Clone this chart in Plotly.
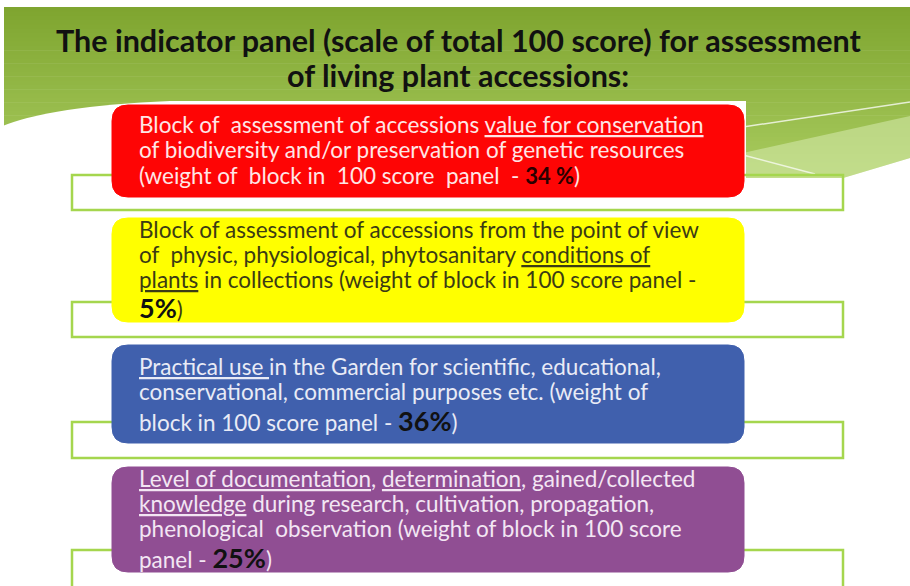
import plotly.graph_objects as go

# ---- data ----
title_lines = [
    "The indicator panel (scale of total 100 score) for assessment",
    "of living plant accessions:",
]
block_names = ["Conservation value", "Plant conditions", "Practical use", "Documentation"]
block_weights = [34, 5, 36, 25]  # weight of block in 100 score panel, %
block_lines = [
    ["Block of  assessment of accessions <u>value for conservation</u>",
     "of biodiversity and/or preservation of genetic resources",
     "(weight of  block in  100 score  panel  - {w})"],
    ["Block of assessment of accessions from the point of view",
     "of  physic, physiological, phytosanitary <u>conditions of</u>",
     "<u>plants</u> in collections (weight of block in 100 score panel -",
     "{w})"],
    ["<u>Practical use </u>in the Garden for scientific, educational,",
     "conservational, commercial purposes etc. (weight of",
     "block in 100 score panel - {w})"],
    ["<u>Level of documentation</u>, <u>determination</u>, gained/collected",
     "<u>knowledge</u> during research, cultivation, propagation,",
     "phenological  observation (weight of block in 100 score",
     "panel - {w})"],
]
weight_fmt = ["{} %", "{}%", "{}%", "{}%"]

# ---- styles / layout ----
W, H = 910, 586
FONT = "Lato"
box_fill = ["#fe0505", "#ffff00", "#4060ad", "#904e93"]
text_col = ["#ffe6e6", "#3b3b14", "#e9ebf6", "#f3e6f3"]
pct_size = [22, 27, 27, 27]
pct_col = ["#2a0000", "#111111", "#111111", "#111111"]
box_y = [(105, 197), (218, 322), (345, 443), (467, 572)]
box_x = (112, 744)
outline_y = [(175, 210), (302, 337), (422, 458), (550, 620)]
outline_x = (72, 843)
line_y = [[124, 149, 175], [229, 254, 279, 307], [366, 391, 420], [478, 503, 528, 557]]
text_x = 137

shapes = []

# green gradient header
g_top = (0x7f, 0xa5, 0x30)
g_bot = (0xaa, 0xcc, 0x60)
n = 40
y0, y1 = 7, 180
for i in range(n):
    t = i / (n - 1)
    c = tuple(int(g_top[k] + (g_bot[k] - g_top[k]) * t) for k in range(3))
    ya = y0 + (y1 - y0) * i / n
    yb = y0 + (y1 - y0) * (i + 1) / n + 0.6
    shapes.append(dict(type="rect", xref="x", yref="y", x0=4, x1=W, y0=ya, y1=yb,
                       fillcolor="rgb(%d,%d,%d)" % c, line=dict(width=0), layer="below"))
# lighter wedge on right
shapes.append(dict(type="path", xref="x", yref="y",
                   path="M 743,153 L 910,116 L 910,158 L 843,178 L 743,178 Z",
                   fillcolor="rgba(215,235,175,0.55)", line=dict(width=0), layer="below"))
# white carve-outs below header
shapes.append(dict(type="path", xref="x", yref="y",
                   path="M 0,127 Q 50,106 170,101 L 746,101 L 746,600 L 0,600 Z",
                   fillcolor="white", line=dict(width=0), layer="below"))
shapes.append(dict(type="path", xref="x", yref="y",
                   path="M 745,178 L 843,178 L 910,158 L 910,600 L 745,600 Z",
                   fillcolor="white", line=dict(width=0), layer="below"))
# thin white swoosh lines
shapes.append(dict(type="line", xref="x", yref="y", x0=743, y0=127, x1=910, y1=102,
                   line=dict(color="rgba(255,255,255,0.75)", width=1.5), layer="below"))
shapes.append(dict(type="line", xref="x", yref="y", x0=743, y0=155, x1=815, y1=174,
                   line=dict(color="rgba(255,255,255,0.7)", width=1.5), layer="below"))

# outline rectangles behind the blocks
for (a, b) in outline_y:
    shapes.append(dict(type="rect", xref="x", yref="y", x0=outline_x[0], x1=outline_x[1],
                       y0=a, y1=b, line=dict(color="#a5d64e", width=2.5),
                       fillcolor="rgba(0,0,0,0)"))

# rounded blocks
r = 16
for (a, b), fc in zip(box_y, box_fill):
    x0, x1 = box_x
    p = (f"M {x0+r},{a} L {x1-r},{a} Q {x1},{a} {x1},{a+r} L {x1},{b-r} "
         f"Q {x1},{b} {x1-r},{b} L {x0+r},{b} Q {x0},{b} {x0},{b-r} "
         f"L {x0},{a+r} Q {x0},{a} {x0+r},{a} Z")
    shapes.append(dict(type="path", xref="x", yref="y", path=p, fillcolor=fc,
                       line=dict(color=fc, width=1)))

annotations = []
# title
for ty, txt in zip([40, 75], title_lines):
    annotations.append(dict(x=W / 2 + 3, y=ty, xref="x", yref="y", text="<b>" + txt + "</b>",
                            showarrow=False, xanchor="center", yanchor="middle",
                            font=dict(family=FONT, size=30.5, color="#111111")))

for i, lines in enumerate(block_lines):
    wtxt = (f'<span style="font-size:{pct_size[i]}px;color:{pct_col[i]}"><b>'
            + weight_fmt[i].format(block_weights[i]) + "</b></span>")
    for j, ln in enumerate(lines):
        annotations.append(dict(x=text_x, y=line_y[i][j], xref="x", yref="y",
                                text=ln.replace("{w}", wtxt), showarrow=False,
                                xanchor="left", yanchor="middle", align="left",
                                font=dict(family=FONT, size=22.5, color=text_col[i])))

fig = go.Figure()
fig.update_layout(
    width=W, height=H,
    margin=dict(l=0, r=0, t=0, b=0),
    paper_bgcolor="white", plot_bgcolor="white",
    xaxis=dict(range=[0, W], visible=False, fixedrange=True),
    yaxis=dict(range=[H, 0], visible=False, fixedrange=True),
    shapes=shapes, annotations=annotations, showlegend=False,
)
fig.write_html("out.html", config=dict(displayModeBar=False),
               post_script="document.body.style.margin='0';document.body.style.overflow='hidden';")
